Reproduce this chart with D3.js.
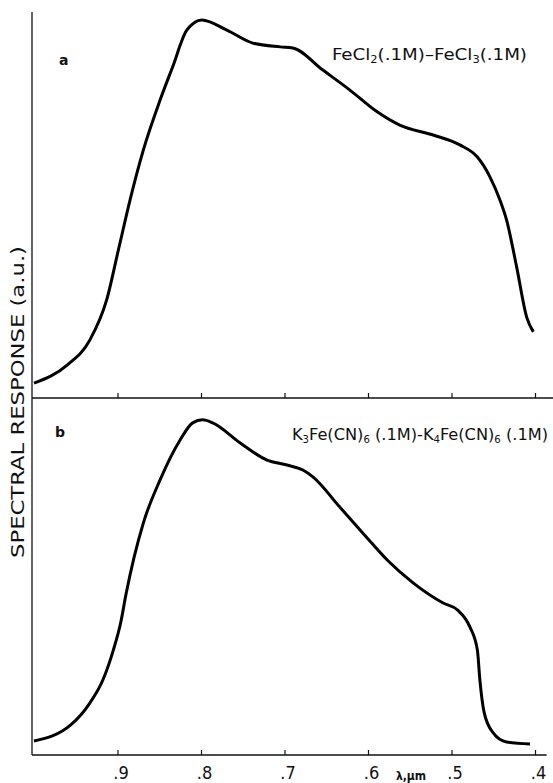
<!DOCTYPE html>
<html>
<head>
<meta charset="utf-8">
<script src="https://cdn.jsdelivr.net/npm/d3@7/dist/d3.min.js"></script>
<style>
  html, body { margin: 0; padding: 0; background: #fff; }
  svg { display: block; }
  text { font-family: "DejaVu Sans Condensed", "Liberation Sans Narrow", "DejaVu Sans", sans-serif; fill: #111; }
</style>
</head>
<body>
<svg id="chart"></svg>
<script>
// wavelength ticks (um) and their labels
const tickValues = [0.9, 0.8, 0.7, 0.6, 0.5, 0.4];
const tickLabels = [".9", ".8", ".7", ".6", ".5", ".4"];

// panel a : FeCl2 - FeCl3
const lambdaA = [1.0, 0.960, 0.933, 0.913, 0.899, 0.885, 0.869, 0.849, 0.834, 0.817, 0.799, 0.769, 0.738, 0.705, 0.690, 0.654, 0.622, 0.589, 0.562, 0.522, 0.490, 0.469, 0.454, 0.442, 0.434, 0.422, 0.410, 0.402];
const responseA = [3.9, 8.7, 15.3, 25.8, 38.9, 52.1, 65.3, 78.4, 87.1, 96.8, 99.5, 96.8, 93.4, 92.4, 92.1, 86.3, 81.1, 75.3, 71.8, 69.2, 66.6, 63.4, 58.2, 52.1, 46.8, 34.5, 21.3, 17.4];

// panel b : K3Fe(CN)6 - K4Fe(CN)6
const lambdaB = [1.0, 0.956, 0.934, 0.917, 0.905, 0.896, 0.890, 0.869, 0.849, 0.825, 0.810, 0.798, 0.786, 0.753, 0.721, 0.697, 0.678, 0.666, 0.634, 0.601, 0.577, 0.546, 0.510, 0.493, 0.478, 0.469, 0.466, 0.461, 0.450, 0.434, 0.406];
const responseB = [3.7, 7.9, 13.4, 20.0, 27.6, 35.0, 42.1, 61.1, 72.4, 82.9, 87.4, 88.2, 87.4, 82.1, 77.6, 76.3, 75.0, 73.2, 65.3, 57.1, 51.3, 45.3, 40.0, 38.2, 33.7, 27.6, 19.7, 11.3, 5.8, 3.4, 2.9];

const width = 553, height = 783;

const svg = d3.select("#chart")
  .attr("width", width)
  .attr("height", height);

// x : wavelength decreasing to the right
const x = d3.scaleLinear().domain([1.0, 0.4]).range([34, 535]);

// two stacked panels
const yA = d3.scaleLinear().domain([0, 100]).range([398, 18]);
const yB = d3.scaleLinear().domain([0, 100]).range([755, 375]);

// left axis line, full height
svg.append("line")
  .attr("x1", x(1.0) - 2).attr("x2", x(1.0) - 2)
  .attr("y1", 12).attr("y2", yB(0))
  .attr("stroke", "#111").attr("stroke-width", 1.3);

// separator / x axis of panel a
const axisA = d3.axisBottom(x)
  .tickValues(tickValues)
  .tickSizeInner(-5)
  .tickSizeOuter(0)
  .tickFormat("");

const gA = svg.append("g")
  .attr("transform", `translate(0, ${yA(0)})`)
  .call(axisA);

// bottom axis of panel b
const axisB = d3.axisBottom(x)
  .tickValues(tickValues)
  .tickSizeInner(-5)
  .tickSizeOuter(0)
  .tickFormat((d, i) => tickLabels[i]);

const gB = svg.append("g")
  .attr("transform", `translate(0, ${yB(0)})`)
  .call(axisB);

[gA, gB].forEach(g => {
  g.select("path.domain").remove();
  g.selectAll(".tick line").attr("stroke", "#111").attr("stroke-width", 1.2);
});

svg.append("line")
  .attr("x1", x(1.0) - 2).attr("x2", width)
  .attr("y1", yA(0)).attr("y2", yA(0))
  .attr("stroke", "#111").attr("stroke-width", 1.3);

svg.append("line")
  .attr("x1", x(1.0) - 2).attr("x2", x(0.386))
  .attr("y1", yB(0)).attr("y2", yB(0))
  .attr("stroke", "#111").attr("stroke-width", 1.3);

gB.selectAll(".tick text")
  .attr("y", 24)
  .attr("dy", 0)
  .attr("dx", 3)
  .attr("font-size", 18)
  .attr("fill", "#111")
  .style("font-family", "'DejaVu Sans Condensed', 'Liberation Sans Narrow', 'DejaVu Sans', sans-serif");

// wavelength unit label
svg.append("text")
  .attr("x", 411).attr("y", 780)
  .attr("text-anchor", "middle")
  .attr("font-size", 12)
  .attr("font-weight", "bold")
  .text("λ,μm");

// y title
svg.append("text")
  .attr("transform", "translate(24, 402) rotate(-90)")
  .attr("text-anchor", "middle")
  .attr("font-size", 18)
  .attr("textLength", 312)
  .attr("lengthAdjust", "spacingAndGlyphs")
  .text("SPECTRAL  RESPONSE (a.u.)");

// curves
const lineA = d3.line()
  .x((d, i) => x(lambdaA[i]))
  .y(d => yA(d))
  .curve(d3.curveMonotoneX);

const lineB = d3.line()
  .x((d, i) => x(lambdaB[i]))
  .y(d => yB(d))
  .curve(d3.curveMonotoneX);

svg.append("path")
  .datum(responseA)
  .attr("d", lineA)
  .attr("fill", "none")
  .attr("stroke", "#000")
  .attr("stroke-width", 3)
  .attr("stroke-linejoin", "round");

svg.append("path")
  .datum(responseB)
  .attr("d", lineB)
  .attr("fill", "none")
  .attr("stroke", "#000")
  .attr("stroke-width", 3)
  .attr("stroke-linejoin", "round");

// panel letters
svg.append("text")
  .attr("x", 59).attr("y", 65)
  .attr("font-size", 14).attr("font-weight", "bold")
  .style("font-family", "'DejaVu Sans', sans-serif")
  .text("a");

svg.append("text")
  .attr("x", 55).attr("y", 437)
  .attr("font-size", 14).attr("font-weight", "bold")
  .style("font-family", "'DejaVu Sans', sans-serif")
  .text("b");

// solution labels with subscripts
const addLabel = (px, py, len, parts) => {
  const t = svg.append("text")
    .attr("x", px).attr("y", py)
    .attr("font-size", 16)
    .attr("textLength", len)
    .attr("lengthAdjust", "spacingAndGlyphs");
  parts.forEach(p => {
    const s = t.append("tspan").text(p[0]);
    if (p[1]) s.attr("font-size", 10).attr("dy", 3);
    else s.attr("dy", p[2] || 0);
  });
};

addLabel(332, 60, 195, [["FeCl"], ["2", true], ["(.1M)–FeCl", false, -3], ["3", true], ["(.1M)", false, -3]]);
addLabel(292, 440, 256, [["K"], ["3", true], ["Fe(CN)", false, -3], ["6", true], [" (.1M)-K", false, -3], ["4", true], ["Fe(CN)", false, -3], ["6", true], [" (.1M)", false, -3]]);
</script>
</body>
</html>
